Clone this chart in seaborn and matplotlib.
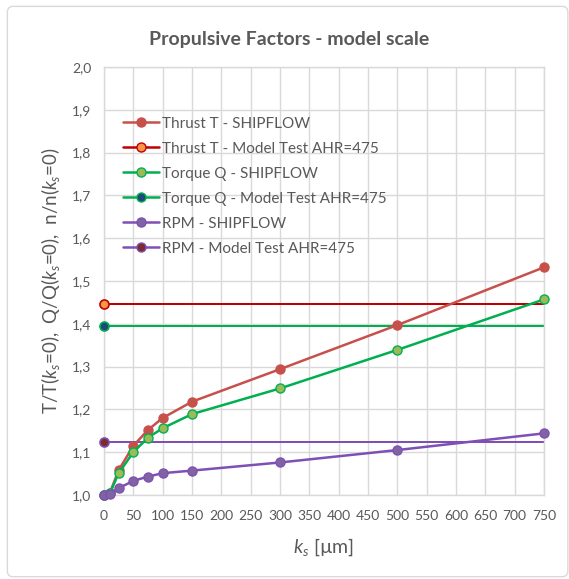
import matplotlib
matplotlib.use("Agg")
import matplotlib.pyplot as plt
from matplotlib.lines import Line2D
from matplotlib.patches import FancyBboxPatch
from matplotlib.ticker import FuncFormatter, MultipleLocator
import seaborn as sns
import pandas as pd

# Roughness heights (µm) computed with SHIPFLOW
ks = [0, 10, 25, 50, 75, 100, 150, 300, 500, 750]
thrust_shipflow = [1.000, 1.005, 1.058, 1.115, 1.152, 1.180, 1.218, 1.294, 1.397, 1.532]
torque_shipflow = [1.000, 1.004, 1.051, 1.100, 1.134, 1.156, 1.189, 1.249, 1.339, 1.457]
rpm_shipflow = [1.000, 1.002, 1.016, 1.033, 1.043, 1.051, 1.057, 1.076, 1.105, 1.144]

# Model test reference levels (AHR = 475)
ks_model = [0, 750]
thrust_model = 1.446
torque_model = 1.396
rpm_model = 1.123

series_labels = [
    "Thrust T - SHIPFLOW",
    "Thrust T - Model Test AHR=475",
    "Torque Q - SHIPFLOW",
    "Torque Q - Model Test AHR=475",
    "RPM - SHIPFLOW",
    "RPM - Model Test AHR=475",
]

sns.set_style("white")
plt.rcParams["font.family"] = ["Lato", "DejaVu Sans"]
plt.rcParams["mathtext.fontset"] = "custom"
plt.rcParams["mathtext.it"] = "Lato:italic"
plt.rcParams["mathtext.rm"] = "Lato"

grey_text = "#595959"
grid_col = "#D9D9D9"

fig = plt.figure(figsize=(5.69, 5.79), dpi=100)
ax = fig.add_axes([104 / 569, 1 - 495 / 579, 440 / 569, 428 / 579])

# outer chart frame
fig.patches.append(FancyBboxPatch((0.013, 0.004), 0.985, 0.985,
                                  boxstyle="round,pad=0,rounding_size=0.01",
                                  transform=fig.transFigure, facecolor="none",
                                  edgecolor="#D9D9D9", linewidth=1.0))

styles = [
    # (line colour, marker face, marker edge)
    ("#C8504B", "#C8504B", "#C8504B"),
    ("#C00000", "#F79646", "#C00000"),
    ("#00B050", "#9BBB59", "#00B050"),
    ("#00B050", "#1F497D", "#00B050"),
    ("#7F4FB5", "#8064A2", "#7F4FB5"),
    ("#7F4FB5", "#7B2C2C", "#7F4FB5"),
]

ms = 6.5
lw = 1.8

shipflow = [thrust_shipflow, torque_shipflow, rpm_shipflow]
model = [thrust_model, torque_model, rpm_model]

# horizontal model test levels (drawn first so SHIPFLOW curves sit on top)
for i, level in enumerate(model):
    lc, mf, me = styles[2 * i + 1]
    df = pd.DataFrame({"ks": ks_model, "v": [level, level]})
    sns.lineplot(data=df, x="ks", y="v", ax=ax, color=lc, linewidth=lw * 0.8,
                 zorder=2, legend=False)
    sns.scatterplot(x=[ks_model[0]], y=[level], ax=ax, color=mf, edgecolor=me,
                    linewidth=1.2, s=ms ** 2, zorder=4, legend=False, clip_on=False)

for i, vals in enumerate(shipflow):
    lc, mf, me = styles[2 * i]
    df = pd.DataFrame({"ks": ks, "v": vals})
    sns.lineplot(data=df, x="ks", y="v", ax=ax, color=lc, linewidth=lw,
                 marker="o", markersize=ms, markerfacecolor=mf,
                 markeredgecolor=me, markeredgewidth=1.0, zorder=3,
                 legend=False, clip_on=False)

ax.set_xlim(0, 750)
ax.set_ylim(1.0, 2.0)
ax.xaxis.set_major_locator(MultipleLocator(50))
ax.yaxis.set_major_locator(MultipleLocator(0.1))
ax.yaxis.set_major_formatter(FuncFormatter(lambda v, p: f"{v:.1f}".replace(".", ",")))
ax.grid(True, color=grid_col, linewidth=1.0)
ax.set_axisbelow(True)
for sp in ax.spines.values():
    sp.set_color(grid_col)
    sp.set_linewidth(1.0)
ax.tick_params(axis="both", length=0, labelsize=10, colors=grey_text)
ax.tick_params(axis="x", pad=11)
ax.tick_params(axis="y", pad=9)

ax.set_xlabel(r"$k_s$ [µm]", fontsize=14, color=grey_text, labelpad=10)
ax.set_ylabel(r"T/T($k_s$=0),  Q/Q($k_s$=0),  n/n($k_s$=0)", fontsize=13.5,
              color=grey_text, labelpad=7)
fig.text(0.508, 0.932, "Propulsive Factors - model scale", ha="center",
         va="center", fontsize=14, fontweight="bold", color=grey_text)

handles = []
for lc, mf, me in styles:
    handles.append(Line2D([0], [0], color=lc, linewidth=lw, marker="o",
                          markersize=ms, markerfacecolor=mf,
                          markeredgecolor=me, markeredgewidth=1.0))
leg = ax.legend(handles, series_labels, loc="upper left",
                bbox_to_anchor=(0.013, 0.916), frameon=False, fontsize=11,
                labelspacing=0.72, handlelength=2.3, handletextpad=0.2,
                labelcolor=grey_text)

fig.savefig("out.png", dpi=100)
